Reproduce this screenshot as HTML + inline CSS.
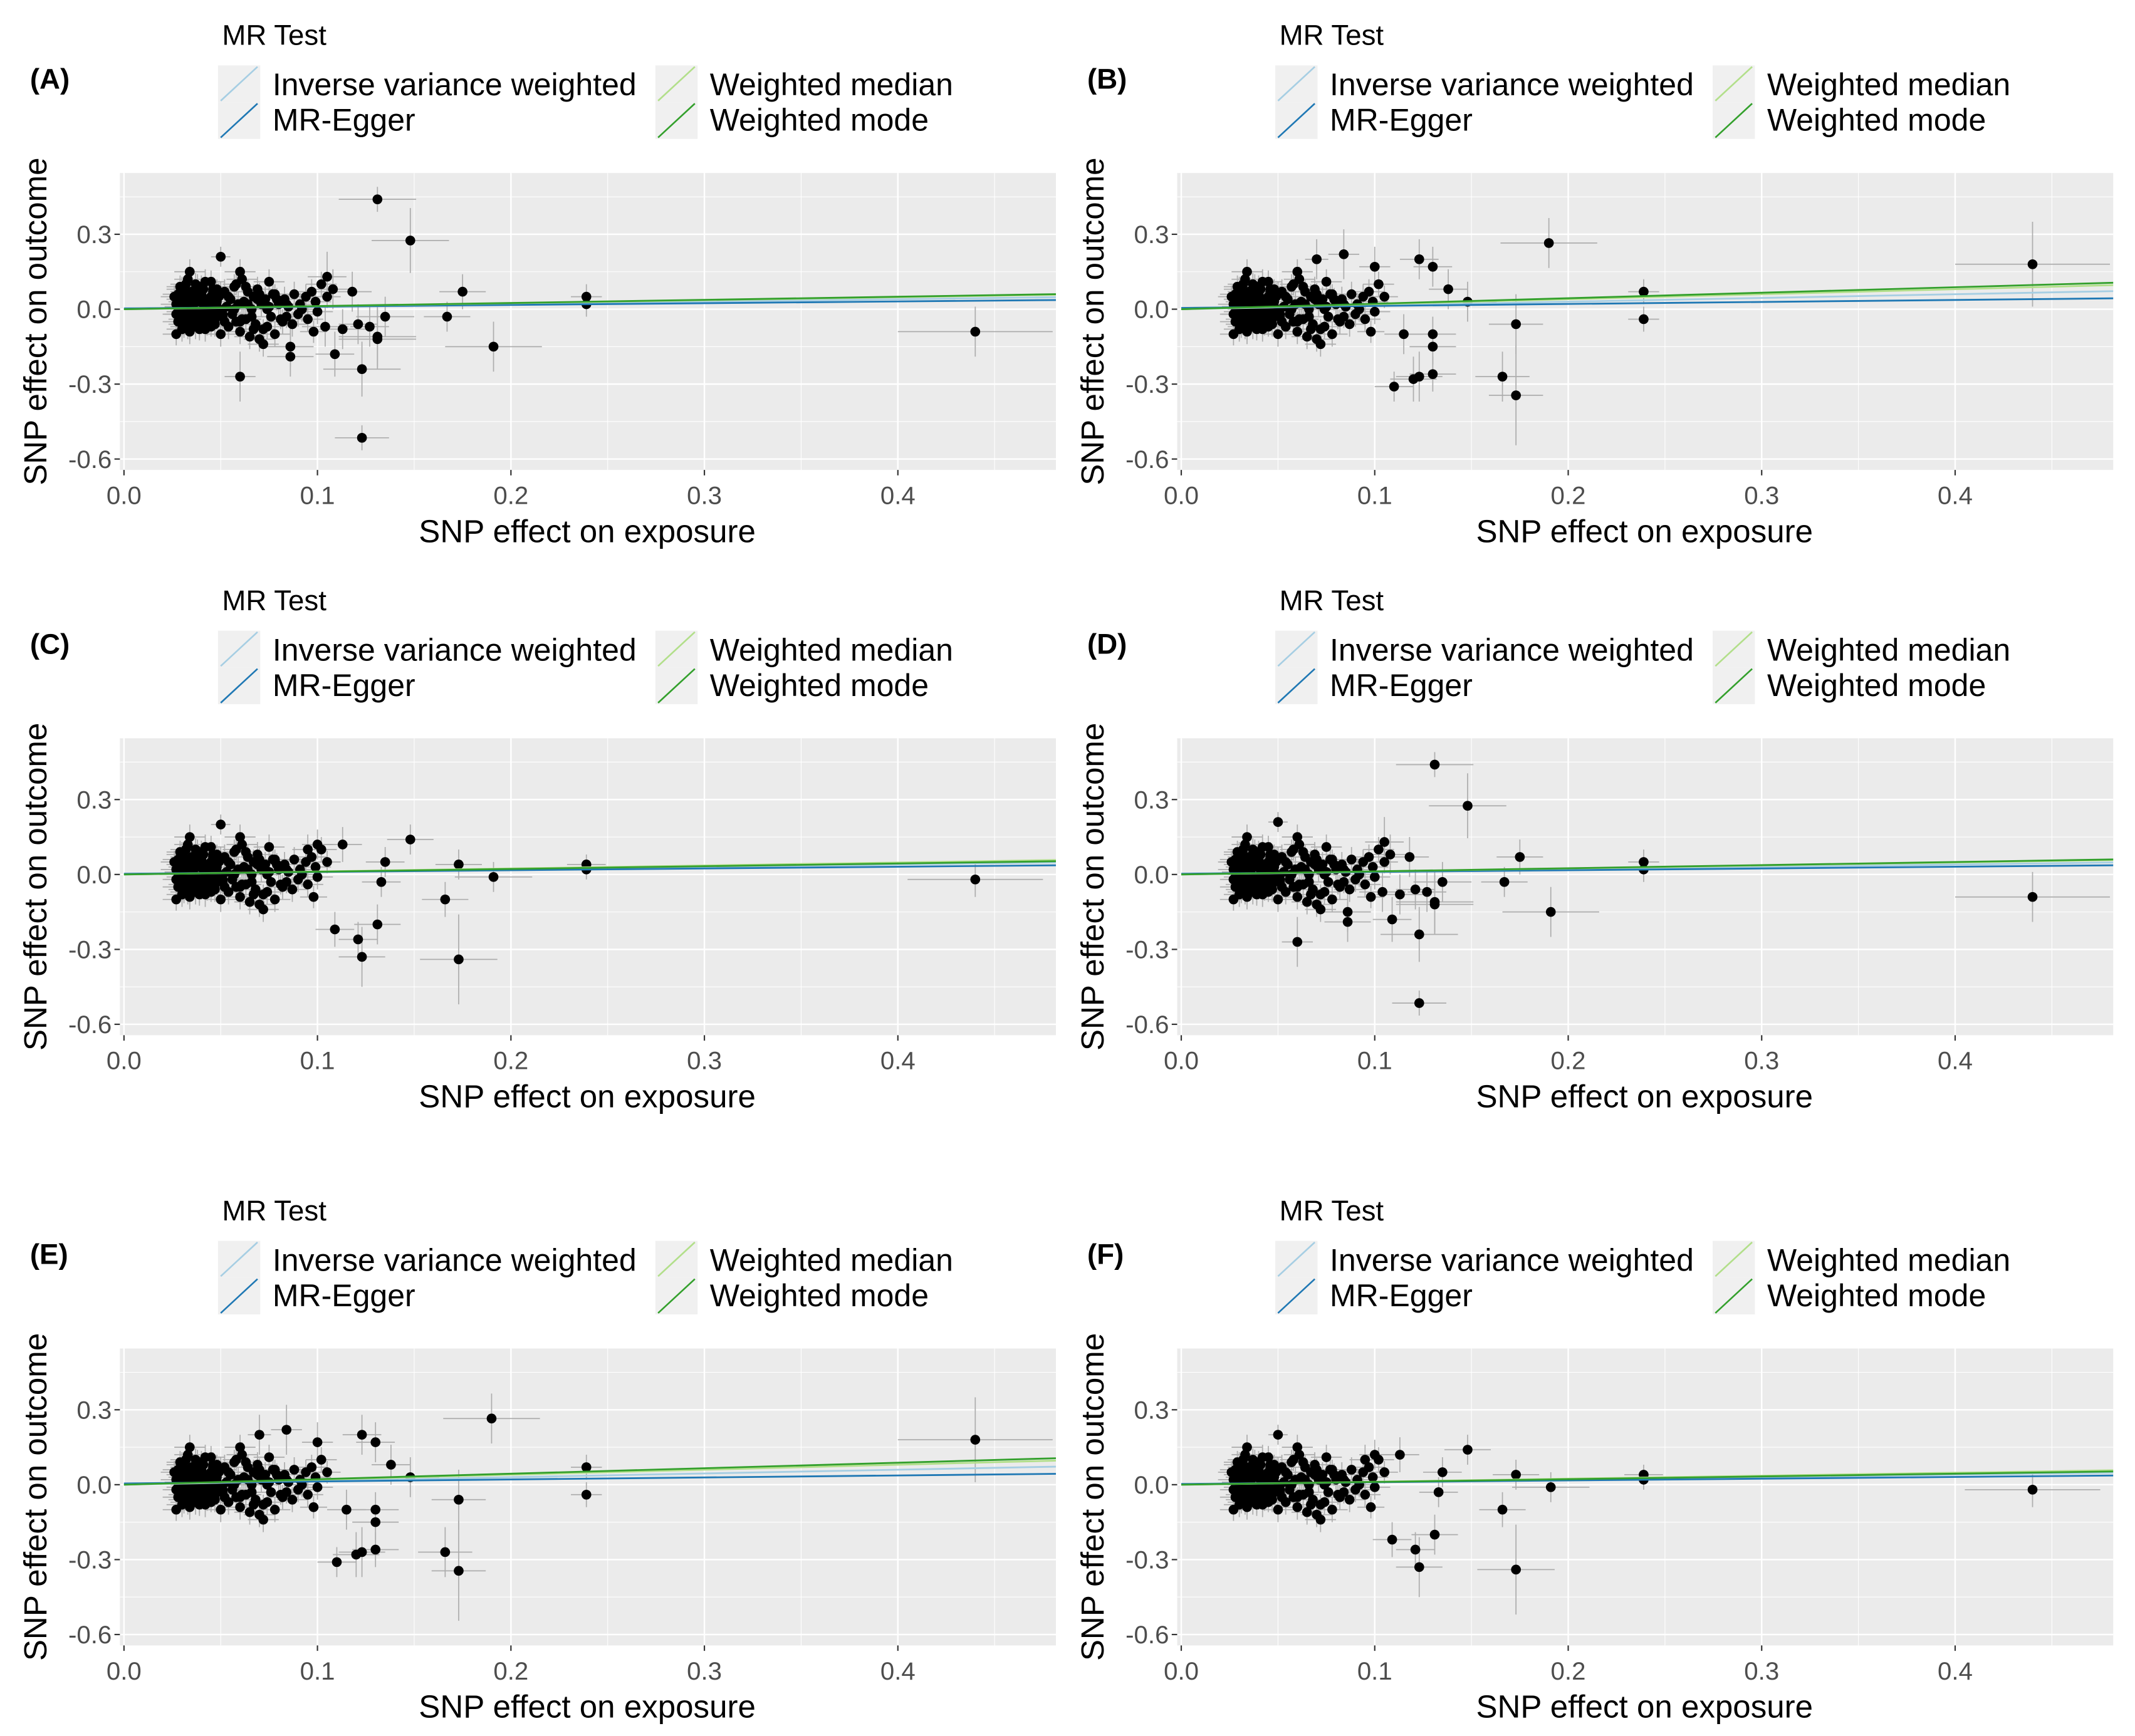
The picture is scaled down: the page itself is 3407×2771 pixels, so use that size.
<!DOCTYPE html>
<html><head><meta charset="utf-8">
<style>
html,body{margin:0;padding:0;background:#fff;}
svg{display:block;font-family:"Liberation Sans",Arial,sans-serif;}
</style></head>
<body>
<svg id="fig" width="3407" height="2771" viewBox="0 0 1567 1274.5" preserveAspectRatio="none" xmlns="http://www.w3.org/2000/svg"></svg>
<script>
// ---------- shared dense cluster ----------
const clusterX = [0.027,0.028,0.028,0.029,0.03,0.03,0.031,0.031,0.032,0.032,0.033,0.033,0.034,0.034,0.035,0.035,0.036,0.036,0.037,0.038,0.038,0.039,0.04,0.04,0.041,0.042,0.042,0.043,0.044,0.045,0.045,0.046,0.047,0.048,0.049,0.05,0.05,0.051,0.052,0.053,0.054,0.055,0.056,0.057,0.058,0.059,0.06,0.06,0.061,0.062,0.063,0.064,0.065,0.066,0.067,0.068,0.069,0.07,0.071,0.072,0.073,0.074,0.075,0.076,0.077,0.078,0.08,0.082,0.083,0.085,0.087,0.088,0.09,0.092,0.094,0.095,0.097,0.099,0.1,0.102];
const clusterY = [0.02,-0.05,0.06,-0.02,0.08,-0.08,0.03,-0.04,0.1,0.0,-0.06,0.05,0.15,-0.09,0.01,0.07,-0.03,0.04,-0.07,0.09,-0.01,0.03,-0.05,0.06,0.0,-0.08,0.11,0.02,-0.04,0.05,-0.02,0.08,-0.06,0.03,0.0,-0.1,0.06,-0.03,0.07,0.01,-0.07,0.04,-0.02,0.09,-0.05,0.02,0.15,-0.09,0.12,0.03,-0.04,0.07,-0.11,0.0,0.05,-0.06,0.08,-0.12,0.02,-0.14,0.04,-0.07,0.11,-0.03,0.06,-0.1,0.02,-0.05,0.04,0.01,-0.06,0.06,-0.02,0.0,0.05,-0.04,0.07,0.03,-0.01,0.1];
const clusterX2 = [0.026,0.027,0.028,0.029,0.03,0.031,0.032,0.033,0.034,0.035,0.036,0.037,0.038,0.039,0.04,0.041,0.042,0.043,0.044,0.045,0.046,0.047,0.048,0.049,0.05,0.027,0.029,0.031,0.033,0.035,0.037,0.039,0.041,0.043,0.045,0.047,0.049,0.052,0.055,0.058,0.061,0.064,0.067,0.07,0.074,0.079,0.084,0.091,0.098,0.105];
const clusterY2 = [0.05,-0.02,0.01,0.04,-0.06,0.07,-0.01,0.03,-0.08,0.06,0.02,-0.03,0.05,-0.07,0.09,-0.02,0.04,0.0,-0.05,0.02,0.07,-0.04,0.01,0.05,-0.02,-0.1,0.09,-0.07,0.12,-0.05,0.1,-0.08,0.08,-0.06,0.11,-0.03,0.06,-0.05,0.04,0.1,-0.04,0.02,-0.08,0.06,0.0,0.04,-0.03,0.02,-0.09,0.05];
const clusterX3 = [0.028,0.03,0.032,0.034,0.036,0.038,0.04,0.042,0.044,0.046,0.048,0.03,0.033,0.036,0.039,0.042,0.045,0.048,0.051,0.054,0.057,0.06,0.063,0.066,0.069,0.072,0.075,0.078,0.081,0.084];
const clusterY3 = [-0.01,0.03,-0.04,0.01,-0.02,0.05,-0.06,0.02,-0.01,0.04,-0.03,0.07,-0.08,0.06,-0.05,0.03,-0.07,0.08,-0.02,0.05,0.0,-0.05,0.09,-0.03,0.04,-0.08,0.01,0.06,-0.04,0.02];

// ---------- outliers per dataset ----------
const aX = [0.131,0.148,0.175,0.167,0.191,0.239,0.239,0.44,0.123,0.123,0.06,0.05,0.109,0.086,0.086,0.131,0.131,0.135,0.113,0.104,0.118,0.105,0.108,0.127,0.121];
const aY = [0.44,0.275,0.07,-0.03,-0.15,0.05,0.02,-0.09,-0.515,-0.24,-0.27,0.21,-0.18,-0.19,-0.15,-0.11,-0.12,-0.03,-0.08,-0.07,0.07,0.13,0.08,-0.07,-0.06];
const aSx = [0.02,0.02,0.012,0.012,0.025,0.008,0.008,0.04,0.014,0.02,0.008,0.005,0.01,0.012,0.012,0.02,0.02,0.015,0.012,0.012,0.01,0.01,0.01,0.01,0.01];
const aSy = [0.05,0.13,0.07,0.06,0.1,0.05,0.05,0.1,0.05,0.11,0.1,0.04,0.09,0.08,0.08,0.12,0.12,0.08,0.08,0.08,0.08,0.1,0.08,0.08,0.08];

const bX = [0.19,0.44,0.239,0.239,0.11,0.12,0.123,0.13,0.13,0.13,0.166,0.173,0.173,0.148,0.123,0.13,0.138,0.1,0.084,0.07,0.115];
const bY = [0.265,0.18,0.07,-0.04,-0.31,-0.28,-0.27,-0.26,-0.15,-0.1,-0.27,-0.345,-0.06,0.03,0.2,0.17,0.08,0.17,0.22,0.2,-0.1];
const bSx = [0.025,0.04,0.008,0.008,0.01,0.012,0.012,0.012,0.012,0.012,0.014,0.014,0.014,0.015,0.01,0.01,0.01,0.008,0.008,0.006,0.01];
const bSy = [0.1,0.17,0.05,0.05,0.06,0.09,0.1,0.07,0.07,0.07,0.1,0.2,0.12,0.08,0.08,0.08,0.08,0.08,0.1,0.08,0.08];

const cX = [0.44,0.239,0.239,0.191,0.173,0.166,0.173,0.148,0.135,0.133,0.131,0.123,0.121,0.109,0.05,0.113,0.1,0.095];
const cY = [-0.02,0.04,0.02,-0.01,0.04,-0.1,-0.34,0.14,0.05,-0.03,-0.2,-0.33,-0.26,-0.22,0.2,0.12,0.12,0.1];
const cSx = [0.035,0.01,0.01,0.02,0.012,0.012,0.02,0.012,0.01,0.01,0.012,0.012,0.01,0.01,0.005,0.01,0.008,0.008];
const cSy = [0.07,0.04,0.04,0.06,0.06,0.07,0.18,0.06,0.06,0.06,0.08,0.12,0.07,0.07,0.04,0.07,0.06,0.06];

// regression slopes [IVW, MR-Egger, Weighted median, Weighted mode]
const slopesA = [0.10,0.07,0.12,0.125];
const slopesB = [0.15,0.08,0.20,0.22];
const slopesC = [0.10,0.07,0.12,0.11];
const eggerIntercepts = [0.003,0.005,0.003];

const methodNames = ["Inverse variance weighted","MR-Egger","Weighted median","Weighted mode"];
const methodColors = ["#a6cee3","#1f78b4","#b2df8a","#33a02c"];
const xTicks = [0.0,0.1,0.2,0.3,0.4];
const xTickLabels = ["0.0","0.1","0.2","0.3","0.4"];
const yTicks = [-0.6,-0.3,0.0,0.3];
const yTickLabels = ["-0.6","-0.3","0.0","0.3"];
const panelLabels = ["(A)","(B)","(C)","(D)","(E)","(F)"];

const NS = "http://www.w3.org/2000/svg";
const svg = document.getElementById("fig");
function mk(tag, attrs, parent){
  const e = document.createElementNS(NS, tag);
  for (const k in attrs) e.setAttribute(k, attrs[k]);
  (parent||svg).appendChild(e);
  return e;
}

function drawPanel(ox, oy, label, X, Y, Sx, Sy, slopes, intercept){
  const g = mk("g", {});
  
  
  const L = 88+ox, R = 775+ox, T = 127+oy, B = 345+oy;
  const x0 = 91+ox, kx = 1420;
  const y0 = 227+oy, ky = 183.33;
  const sx = v => x0 + v*kx;
  const sy = v => y0 - v*ky;

  const pl = mk("text", {x:22+ox, y:65+oy, "font-size":21, "font-weight":"bold", fill:"#000"}, g);
  pl.textContent = label;
  
  
  const mt = mk("text", {x:163+ox, y:33+oy, "font-size":21, fill:"#000"}, g);
  mt.textContent = "MR Test";
  
  
  const pos = [[160,48],[160,75],[481,48],[481,75]];
  const txt = [[200,70],[200,96],[521,70],[521,96]];
  for (let i=0;i<4;i++){
    const kg = mk("g", {}, g);
    
    
    mk("rect", {x:pos[i][0]+ox, y:pos[i][1]+oy, width:31, height:27, fill:"#f0f0f0"}, kg);
    mk("line", {x1:pos[i][0]+ox+2, y1:pos[i][1]+oy+26, x2:pos[i][0]+ox+29, y2:pos[i][1]+oy+1, stroke:methodColors[i], "stroke-width":1.2}, kg);
    const t = mk("text", {x:txt[i][0]+ox, y:txt[i][1]+oy, "font-size":23, fill:"#000"}, kg);
    t.textContent = methodNames[i];
  }
  const bg = mk("rect", {x:L, y:T, width:R-L, height:B-T, fill:"#ebebeb"}, g);
  
  
  for (let v=0.05; v<0.5; v+=0.1) mk("line",{x1:sx(v),x2:sx(v),y1:T,y2:B,stroke:"#fff","stroke-width":0.5},g);
  for (const v of [-0.45,-0.15,0.15,0.45]) mk("line",{x1:L,x2:R,y1:sy(v),y2:sy(v),stroke:"#fff","stroke-width":0.5},g);
  xTicks.forEach((v,i)=>{
    mk("line",{x1:sx(v),x2:sx(v),y1:T,y2:B,stroke:"#fff","stroke-width":1.1},g);
    mk("line",{x1:sx(v),x2:sx(v),y1:B,y2:B+4,stroke:"#333","stroke-width":1},g);
    const t = mk("text",{x:sx(v), y:B+25, "font-size":18.5, fill:"#4d4d4d","text-anchor":"middle"},g);
    t.textContent = xTickLabels[i];
    
    
  });
  yTicks.forEach((v,i)=>{
    mk("line",{x1:L,x2:R,y1:sy(v),y2:sy(v),stroke:"#fff","stroke-width":1.1},g);
    mk("line",{x1:L-4,x2:L,y1:sy(v),y2:sy(v),stroke:"#333","stroke-width":1},g);
    const t = mk("text",{x:L-6, y:sy(v)+6.5, "font-size":18.5, fill:"#4d4d4d","text-anchor":"end"},g);
    t.textContent = yTickLabels[i];
    
    
  });
  const xt = mk("text",{x:431+ox, y:398+oy, "font-size":23.5, fill:"#000","text-anchor":"middle"},g);
  xt.textContent = "SNP effect on exposure";
  
  
  const yt = mk("text",{x:0,y:0,"font-size":23.5,fill:"#000","text-anchor":"middle",transform:`translate(${34+ox},${(T+B)/2}) rotate(-90)`},g);
  yt.textContent = "SNP effect on outcome";
  
  

  const clip = "clip"+label.replace(/[()]/g,'');
  const cp = mk("clipPath",{id:clip},g);
  mk("rect",{x:L,y:T,width:R-L,height:B-T},cp);
  const pg = mk("g",{"clip-path":`url(#${clip})`},g);

  const px = [], py = [], psx = [], psy = [];
  const nc = Math.min(clusterX.length, clusterY.length);
  for (let i=0;i<nc;i++){px.push(clusterX[i]);py.push(clusterY[i]);psx.push(0.008);psy.push(0.05);}
  const nc2 = Math.min(clusterX2.length, clusterY2.length);
  for (let i=0;i<nc2;i++){px.push(clusterX2[i]);py.push(clusterY2[i]);psx.push(0.007);psy.push(0.045);}
  const nc3 = Math.min(clusterX3.length, clusterY3.length);
  for (let i=0;i<nc3;i++){px.push(clusterX3[i]);py.push(clusterY3[i]);psx.push(0.006);psy.push(0.04);}
  const no = Math.min(X.length, Y.length);
  for (let i=0;i<no;i++){px.push(X[i]);py.push(Y[i]);psx.push(Sx[i]||0.01);psy.push(Sy[i]||0.06);}

  for (let i=0;i<px.length;i++){
    mk("line",{x1:sx(px[i]-psx[i]),x2:sx(px[i]+psx[i]),y1:sy(py[i]),y2:sy(py[i]),stroke:"#adadad","stroke-width":0.8},pg);
    mk("line",{x1:sx(px[i]),x2:sx(px[i]),y1:sy(py[i]-psy[i]),y2:sy(py[i]+psy[i]),stroke:"#adadad","stroke-width":0.8},pg);
  }
  for (let i=0;i<px.length;i++){
    const c = mk("circle",{cx:sx(px[i]),cy:sy(py[i]),r:3.6,fill:"#000"},pg);
    
    
  }
  const xe = 0.49;
  slopes.forEach((s,i)=>{
    const b0 = i===1 ? intercept : 0;
    const ln = mk("line",{x1:sx(0),y1:sy(b0),x2:sx(xe),y2:sy(b0+s*xe),stroke:methodColors[i],"stroke-width":1.3},pg);
    
    
  });
}

const colOff = [0, 776];
const rowOff = [0, 415, 863];
drawPanel(colOff[0], rowOff[0], panelLabels[0], aX, aY, aSx, aSy, slopesA, eggerIntercepts[0]);
drawPanel(colOff[1], rowOff[0], panelLabels[1], bX, bY, bSx, bSy, slopesB, eggerIntercepts[1]);
drawPanel(colOff[0], rowOff[1], panelLabels[2], cX, cY, cSx, cSy, slopesC, eggerIntercepts[2]);
drawPanel(colOff[1], rowOff[1], panelLabels[3], aX, aY, aSx, aSy, slopesA, eggerIntercepts[0]);
drawPanel(colOff[0], rowOff[2], panelLabels[4], bX, bY, bSx, bSy, slopesB, eggerIntercepts[1]);
drawPanel(colOff[1], rowOff[2], panelLabels[5], cX, cY, cSx, cSy, slopesC, eggerIntercepts[2]);
</script>
</body></html>
